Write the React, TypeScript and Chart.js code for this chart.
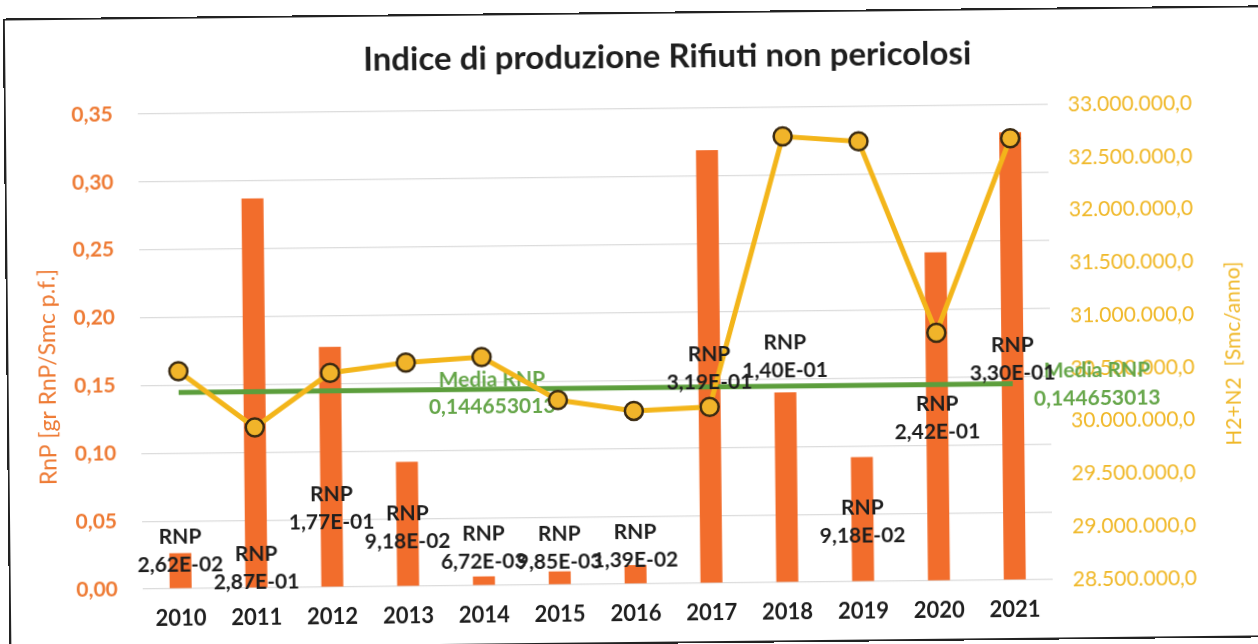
import React, { useEffect, useRef } from 'react';
import { Chart, registerables } from 'chart.js';

Chart.register(...registerables);

// ---------- data ----------
const years = ['2010', '2011', '2012', '2013', '2014', '2015', '2016', '2017', '2018', '2019', '2020', '2021'];
const rnpValues = [0.0262, 0.287, 0.177, 0.0918, 0.00672, 0.00985, 0.0139, 0.319, 0.14, 0.0918, 0.242, 0.33];
const h2n2Values = [30560000, 30020000, 30530000, 30620000, 30665000, 30250000, 30140000, 30170000, 32725000, 32670000, 30850000, 32685000];
const mediaRnp = 0.144653013;
const mediaValues = years.map(() => mediaRnp);
// vertical anchor (left-axis units) of each "RNP / value" data label
const rnpLabelAt = [0.0277, 0.0149, 0.0578, 0.0435, 0.0277, 0.0271, 0.0277, 0.1586, 0.1666, 0.0443, 0.1196, 0.163];
const leftMin = 0;
const leftMax = 0.35;
const leftStep = 0.05;
const rightMin = 28500000;
const rightMax = 33000000;
const rightStep = 500000;

const titleText = 'Indice di produzione Rifiuti non pericolosi';
const leftTitle = 'RnP [gr RnP/Smc p.f.]';
const rightTitle = 'H2+N2  [Smc/anno]';
const mediaLabel = 'Media RNP';
const seriesLabel = 'RNP';

// ---------- style ----------
const FONT = 'Lato';
const C_BAR = '#F26D2C';
const C_LEFT = '#EE7B35';
const C_RIGHT = '#F0B828';
const C_LINE = '#F3B51A';
const C_POINT = '#F1B42A';
const C_POINT_BORDER = '#3A2A12';
const C_GREEN = '#5C9E3C';
const C_GREEN_TEXT = '#66A64A';
const C_TEXT = '#1E1E1E';

function fmtLeft(v: number): string {
  return v.toFixed(2).replace('.', ',');
}
function fmtRight(v: number): string {
  const s = Math.round(v).toString().replace(/\B(?=(\d{3})+(?!\d))/g, '.');
  return s + ',0';
}
function fmtExp(v: number): string {
  const [m, e] = v.toExponential(2).split('e');
  const n = parseInt(e, 10);
  return m.replace('.', ',') + 'E' + (n < 0 ? '-' : '+') + String(Math.abs(n)).padStart(2, '0');
}
function fmtMedia(v: number): string {
  return String(v).replace('.', ',');
}

const customPlugin = {
  id: 'customText',
  afterDatasetDraw(chart: any, args: any) {
    if (args.index !== 1) return;
    const ctx = chart.ctx;
    const x = chart.scales.x;
    const y = chart.scales.y;
    const yc = y.getPixelForValue(mediaRnp);
    ctx.save();
    ctx.font = `bold 21px ${FONT}`;
    ctx.fillStyle = C_GREEN_TEXT;
    ctx.textAlign = 'center';
    ctx.textBaseline = 'middle';
    // label near 2014
    const x1 = x.getPixelForValue(4) + 10;
    ctx.fillText(mediaLabel, x1, yc - 9);
    ctx.fillText(fmtMedia(mediaRnp), x1, yc + 18);
    // label right of last point
    const w = Math.max(ctx.measureText(mediaLabel).width, ctx.measureText(fmtMedia(mediaRnp)).width);
    const x2 = x.getPixelForValue(years.length - 1) + 21 + w / 2;
    ctx.fillText(mediaLabel, x2, yc - 12);
    ctx.fillText(fmtMedia(mediaRnp), x2, yc + 16);
    ctx.restore();
  },
  afterDatasetsDraw(chart: any) {
    const ctx = chart.ctx;
    const x = chart.scales.x;
    const y = chart.scales.y;
    ctx.save();
    ctx.font = `bold 21px ${FONT}`;
    ctx.fillStyle = C_TEXT;
    ctx.textAlign = 'center';
    ctx.textBaseline = 'middle';
    rnpValues.forEach((v, i) => {
      const px = x.getPixelForValue(i);
      const py = y.getPixelForValue(rnpLabelAt[i]);
      ctx.fillText(seriesLabel, px, py - 14);
      ctx.fillText(fmtExp(v), px, py + 14);
    });
    ctx.restore();
  },
  afterDraw(chart: any) {
    const ctx = chart.ctx;
    ctx.save();
    ctx.fillStyle = C_TEXT;
    ctx.font = `bold 33px ${FONT}`;
    ctx.textAlign = 'center';
    ctx.textBaseline = 'middle';
    ctx.fillText(titleText, 670, 57);

    ctx.font = `23px ${FONT}`;
    ctx.fillStyle = C_LEFT;
    ctx.translate(48, 371);
    ctx.rotate(-Math.PI / 2);
    ctx.fillText(leftTitle, 0, 0);
    ctx.restore();

    ctx.save();
    ctx.font = `21px ${FONT}`;
    ctx.fillStyle = C_RIGHT;
    ctx.textAlign = 'center';
    ctx.textBaseline = 'middle';
    ctx.translate(1233, 360);
    ctx.rotate(-Math.PI / 2);
    ctx.fillText(rightTitle, 0, 0);
    ctx.restore();
  },
};

export default function App() {
  const ref = useRef<HTMLCanvasElement | null>(null);

  useEffect(() => {
    document.body.style.overflow = 'hidden';
    if (!ref.current) return;
    const chart = new Chart(ref.current, {
      type: 'bar',
      data: {
        labels: years,
        datasets: [
          {
            type: 'bar',
            label: 'RNP',
            data: rnpValues,
            backgroundColor: C_BAR,
            borderWidth: 0,
            yAxisID: 'y',
            barPercentage: 1,
            categoryPercentage: 0.29,
            order: 3,
          },
          {
            type: 'line',
            label: 'Media RNP',
            data: mediaValues,
            borderColor: C_GREEN,
            borderWidth: 5,
            pointRadius: 0,
            yAxisID: 'y',
            order: 2,
          },
          {
            type: 'line',
            label: 'H2+N2',
            data: h2n2Values,
            borderColor: C_LINE,
            borderWidth: 5,
            pointRadius: 9,
            pointBackgroundColor: C_POINT,
            pointBorderColor: C_POINT_BORDER,
            pointBorderWidth: 2.5,
            yAxisID: 'y1',
            order: 1,
          },
        ] as any,
      },
      options: {
        animation: false,
        responsive: false,
        devicePixelRatio: 1,
        layout: { padding: { top: 109, left: 0, right: 0, bottom: 0 } },
        plugins: {
          legend: { display: false },
          title: { display: false },
          tooltip: { enabled: false },
        },
        scales: {
          x: {
            grid: { display: false, drawTicks: false },
            border: { display: false },
            ticks: {
              color: C_TEXT,
              font: { family: FONT, size: 22, weight: 'bold' },
              padding: 17,
            },
            afterFit: (s: any) => {
              s.height = 60;
            },
          },
          y: {
            position: 'left',
            min: leftMin,
            max: leftMax,
            grid: { color: '#DCDCDC', lineWidth: 1.2, drawTicks: false },
            border: { display: false },
            ticks: {
              stepSize: leftStep,
              color: C_LEFT,
              font: { family: FONT, size: 21, weight: 'bold' },
              padding: 25,
              callback: (v: any) => fmtLeft(Number(v)),
            },
            afterFit: (s: any) => {
              s.width = 140;
            },
          },
          y1: {
            position: 'right',
            min: rightMin,
            max: rightMax,
            grid: { display: false, drawTicks: false },
            border: { display: false },
            ticks: {
              stepSize: rightStep,
              color: C_RIGHT,
              font: { family: FONT, size: 21 },
              padding: 20,
              callback: (v: any) => fmtRight(Number(v)),
            },
            afterFit: (s: any) => {
              s.width = 208;
            },
          },
        },
      } as any,
      plugins: [customPlugin as any],
    });
    return () => chart.destroy();
  }, []);

  return (
    <div style={{ position: 'fixed', left: 0, top: 0, width: 1258, height: 644, overflow: 'hidden', background: '#fff' }}>
      <div
        style={{
          position: 'absolute',
          left: 0,
          top: 0,
          width: 1258,
          height: 644,
          transform: 'rotate(-0.6deg)',
          transformOrigin: '629px 322px',
        }}
      >
        <canvas ref={ref} width={1258} height={644} style={{ position: 'absolute', left: 0, top: 0, width: 1258, height: 644 }} />
        <div
          style={{
            position: 'absolute',
            left: 6,
            top: 12,
            width: 1280,
            height: 632,
            border: '2px solid #222',
            boxSizing: 'border-box',
            pointerEvents: 'none',
          }}
        />
      </div>
    </div>
  );
}
